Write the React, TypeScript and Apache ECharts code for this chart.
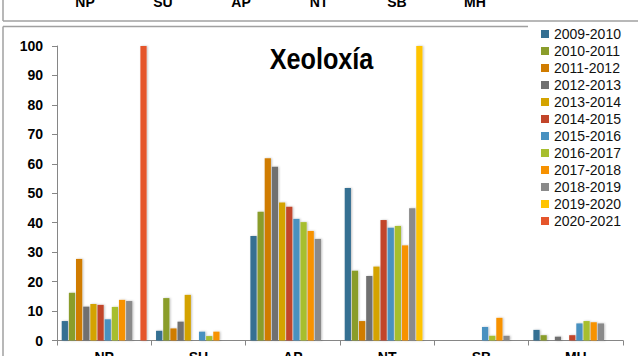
import React, { useEffect, useRef } from "react";
import * as echarts from "echarts";

const categories = ["NP", "SU", "AP", "NT", "SB", "MH"];
const seriesNames = [
  "2009-2010", "2010-2011", "2011-2012", "2012-2013", "2013-2014", "2014-2015",
  "2015-2016", "2016-2017", "2017-2018", "2018-2019", "2019-2020", "2020-2021",
];
const colors = [
  "#346F92", "#8A9D2B", "#D07C00", "#707070", "#D4A300", "#C2452A",
  "#4891C0", "#A7BE2E", "#F79200", "#8A8A8A", "#FFC400", "#E5552B",
];
// values per series, order: NP, SU, AP, NT, SB, MH
const v2009 = [6.6, 3.3, 35.5, 51.8, 0, 3.6];
const v2010 = [16.2, 14.4, 43.7, 23.7, 0, 1.8];
const v2011 = [27.7, 4.1, 61.9, 6.6, 0, 0];
const v2012 = [11.5, 6.4, 59, 21.9, 0, 1.3];
const v2013 = [12.4, 15.5, 46.9, 25.1, 0, 0];
const v2014 = [12.1, 0, 45.4, 40.9, 0, 1.8];
const v2015 = [7.2, 3.0, 41.3, 38.3, 4.6, 5.8];
const v2016 = [11.4, 1.5, 40.2, 38.9, 1.6, 6.6];
const v2017 = [13.8, 3.0, 37.2, 32.3, 7.7, 6.2];
const v2018 = [13.4, 0, 34.5, 44.9, 1.6, 5.8];
const v2019 = [0, 0, 0, 100, 0, 0];
const v2020 = [100, 0, 0, 0, 0, 0];
const seriesValues = [v2009, v2010, v2011, v2012, v2013, v2014, v2015, v2016, v2017, v2018, v2019, v2020];

const title = "Xeoloxía";
// labels of the chart above, cut off at the top
const prevCategories = ["NP", "SU", "AP", "NT", "SB", "MH"];

export default function App() {
  const ref = useRef<HTMLDivElement>(null);
  useEffect(() => {
    if (!ref.current) return;
    const chart = echarts.init(ref.current, null, { renderer: "svg" });
    const font = "'Liberation Sans', Arial, sans-serif";
    const frameColor = "#A0A0A0";
    const prevTexts = prevCategories.map((c, i) => ({
      type: "text",
      x: 85 + i * 78,
      y: 9,
      z: 10,
      style: {
        text: c,
        fill: "#000",
        font: `bold 14px ${font}`,
        textAlign: "center",
        textVerticalAlign: "bottom",
      },
    }));
    chart.setOption({
      animation: false,
      backgroundColor: "#fff",
      textStyle: { fontFamily: font },
      grid: {
        left: 57,
        top: 46,
        width: 566,
        height: 294.5,
        containLabel: false,
        outerBoundsMode: "none",
      },
      legend: {
        orient: "vertical",
        left: 541,
        top: 27,
        icon: "rect",
        itemWidth: 8,
        itemHeight: 8,
        itemGap: 3,
        itemTextGap: 6,
        padding: 0,
        textStyle: { fontSize: 14, color: "#111", fontFamily: font, lineHeight: 14 },
        data: seriesNames,
      },
      xAxis: {
        type: "category",
        data: categories,
        axisLine: { lineStyle: { color: "#868686", width: 1 } },
        axisTick: { show: true, length: 5, lineStyle: { color: "#868686" } },
        axisLabel: { color: "#000", fontWeight: "bold", fontSize: 14, margin: 9, fontFamily: font },
      },
      yAxis: {
        type: "value",
        min: 0,
        max: 100,
        interval: 10,
        splitLine: { show: false },
        axisLine: { show: true, lineStyle: { color: "#868686", width: 1 } },
        axisTick: { show: true, length: 5, lineStyle: { color: "#868686" } },
        axisLabel: { color: "#000", fontWeight: "bold", fontSize: 14, margin: 14, fontFamily: font },
      },
      graphic: [
        { type: "line", shape: { x1: 3, y1: 0, x2: 3, y2: 21 }, style: { stroke: frameColor, lineWidth: 1.5 } },
        { type: "line", shape: { x1: 3, y1: 21, x2: 638, y2: 21 }, style: { stroke: frameColor, lineWidth: 1.5 } },
        { type: "line", shape: { x1: 3, y1: 26.5, x2: 3, y2: 356 }, style: { stroke: frameColor, lineWidth: 1.5 } },
        { type: "line", shape: { x1: 3, y1: 26.5, x2: 528, y2: 26.5 }, style: { stroke: frameColor, lineWidth: 1.5 } },
        ...prevTexts,
        {
          type: "text",
          x: 321.5,
          y: 59,
          scaleX: 0.87,
          z: 10,
          style: {
            text: title,
            fill: "#000",
            font: `bold 29px ${font}`,
            textAlign: "center",
            textVerticalAlign: "middle",
          },
        },
      ],
      series: seriesNames.map((name, i) => ({
        name,
        type: "bar",
        data: seriesValues[i],
        barCategoryGap: "10%",
        barGap: "15%",
        itemStyle: {
          color: colors[i],
          shadowBlur: 2,
          shadowColor: "rgba(0,0,0,0.25)",
          shadowOffsetX: 1,
          shadowOffsetY: 0,
        },
      })),
    });
    return () => chart.dispose();
  }, []);
  return (
    <div
      ref={ref}
      style={{ position: "fixed", left: 0, top: 0, width: 638, height: 356 }}
    />
  );
}
